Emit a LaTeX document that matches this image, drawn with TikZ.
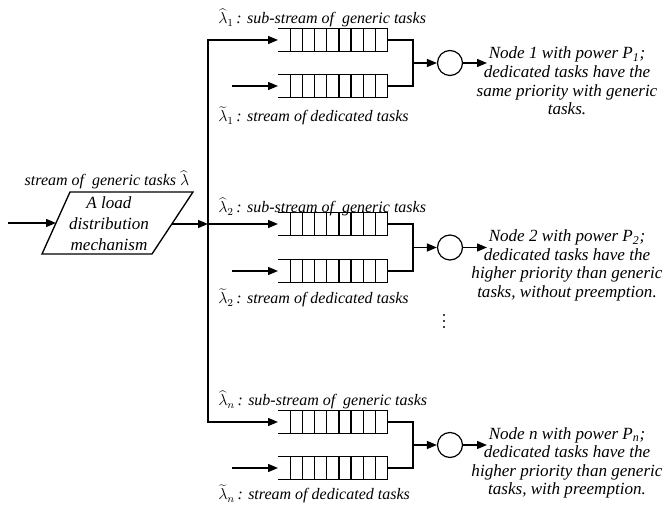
\documentclass[tikz,border=0pt]{standalone}
\usepackage{fontspec}
\setmainfont{Liberation Serif}
\usetikzlibrary{arrows.meta,calc}
\tikzset{
 conn/.style={line width=1pt},
 arr/.style={conn,-{Triangle[length=7.5pt,width=6pt]}},
 srv/.style={circle,draw,line width=0.9pt,minimum size=18.75pt,inner sep=0pt},
 lbl/.style={font=\itshape\fontsize{12}{14}\selectfont,anchor=west,inner sep=0pt},
 desc/.style={font=\itshape\fontsize{12.8}{13.9}\selectfont,align=center,inner sep=0pt},
 qbox/.style={minimum width=81.75pt,minimum height=17.25pt,inner sep=0pt,anchor=west},
 dotmark/.style={circle,fill,inner sep=0pt,minimum size=1.6pt},
}
\newcommand\qdraw[1]{%
 \draw[conn] (#1.north west) -- (#1.north east) -- (#1.south east) -- (#1.south west);
 \foreach \k in {1,...,8} {\draw[conn] ($(#1.north west)!\k/9!(#1.north east)$) -- ($(#1.south west)!\k/9!(#1.south east)$);}
}
% #1 id, #2 y q1, #3 y q2, #4 y top label, #5 y bottom label, #6 top label, #7 bottom label, #8 description
\newcommand\blk[8]{%
 \node[qbox] (g#1) at (278,#2) {};
 \node[qbox] (d#1) at (278,#3) {};
 \qdraw{g#1}\qdraw{d#1}
 \coordinate (din#1) at (232,#3);
 \draw[arr] (din#1) -- (d#1.west);
 \coordinate (br#1) at (413,{(#2+#3)/2});
 \node[srv] (s#1) at (450,{(#2+#3)/2}) {};
 \draw[conn] (g#1.east) -| (br#1) |- (d#1.east);
 \draw[arr] (br#1) -- (s#1);
 \coordinate (o#1) at (487,{(#2+#3)/2});
 \draw[arr] (s#1) -- (o#1);
 \node[desc] (t#1) at (567,{(#2+#3)/2+18}) {#8};
 \node[lbl] (lt#1) at (218,#4) {#6};
 \node[lbl] (lb#1) at (218,#5) {#7};
}
\begin{document}
\begin{tikzpicture}[x=0.75pt,y=-0.75pt]
\useasboundingbox (0,0) rectangle (664,505);
% load distribution mechanism
\coordinate (p1) at (70,192);
\coordinate (p2) at (193,192);
\coordinate (p3) at (152,254);
\coordinate (p4) at (42,254);
\draw[conn] (p1) -- (p2) -- (p3) -- (p4) -- cycle;
\node[desc,font=\itshape\fontsize{12.8}{15.75}\selectfont] (mech) at (109,224) {A load\\distribution\\mechanism};
\node[lbl,anchor=center] (inlbl) at (107,180) {stream of~ generic tasks $\widehat{\lambda}$};
\coordinate (in) at (8,223);
\coordinate (pin) at (56,223);
\draw[arr] (in) -- (pin);
\coordinate (pout) at (172,224);
% bus
\coordinate (bt) at (208,40);
\coordinate (bm) at (208,224);
\coordinate (bb) at (208,422);
\draw[arr] (pout) -- (bm);
\blk{1}{40}{86}{18}{116}{$\widehat{\lambda}_1$\,: sub-stream of~ generic tasks}{$\widetilde{\lambda}_1$\,: stream of dedicated tasks}{Node 1 with power P\textsubscript{1};\\dedicated tasks have the\\same priority with generic\\tasks.}
\blk{2}{224}{271}{207}{298}{$\widehat{\lambda}_2$\,: sub-stream of~ generic tasks}{$\widetilde{\lambda}_2$\,: stream of dedicated tasks}{Node 2 with power P\textsubscript{2};\\dedicated tasks have the\\higher priority than generic\\tasks, without preemption.}
\blk{n}{422}{468}{400}{494}{$\widehat{\lambda}_n$\,: sub-stream of~ generic tasks}{$\widetilde{\lambda}_n$\,: stream of dedicated tasks}{Node n with power P\textsubscript{n};\\dedicated tasks have the\\higher priority than generic\\tasks, with preemption.}
\draw[arr] (bm) -- (bt) -- (g1.west);
\draw[arr] (bm) -- (bb) -- (gn.west);
\draw[arr] (bm) -- (g2.west);
\node[dotmark] (dot1) at (444,315) {};
\node[dotmark] (dot2) at (444,321) {};
\node[dotmark] (dot3) at (444,327) {};
\end{tikzpicture}
\end{document}
